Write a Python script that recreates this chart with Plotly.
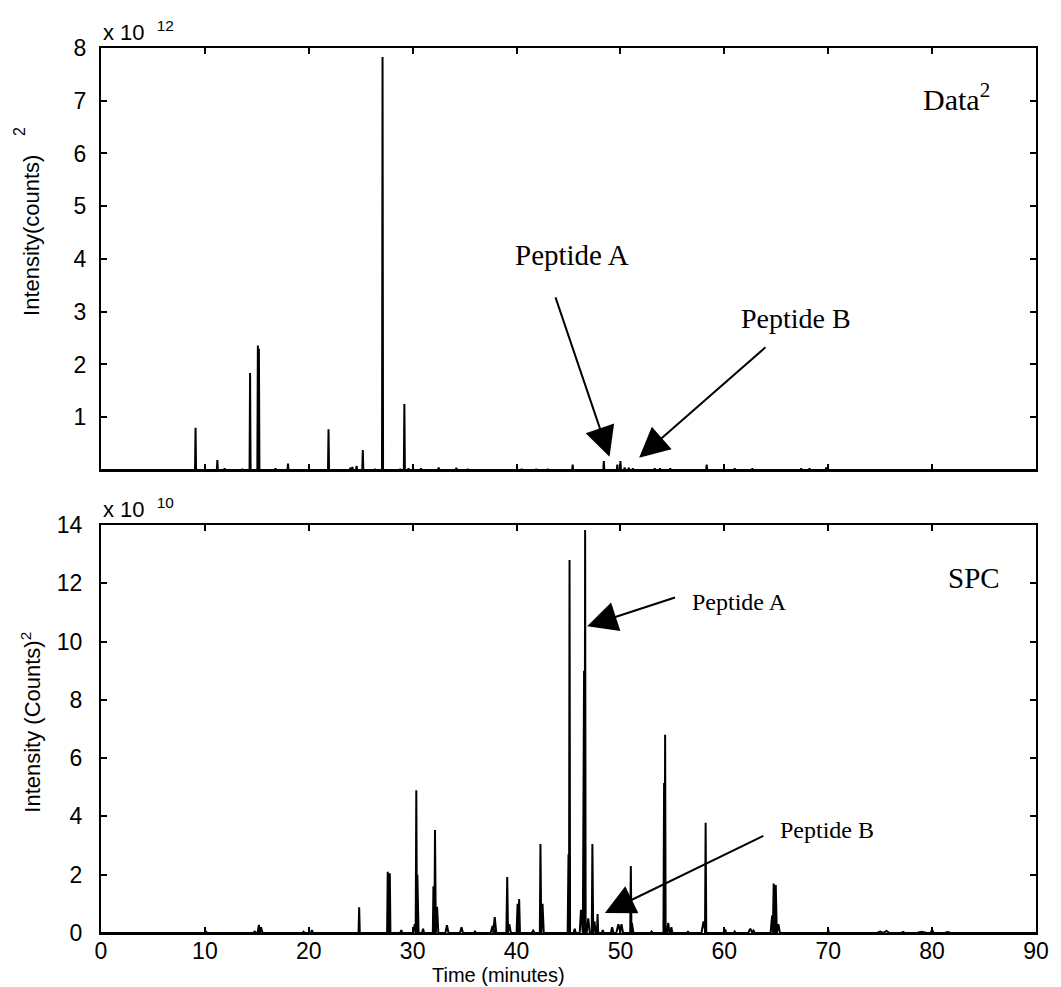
import plotly.graph_objects as go

# ---- Data^2 chromatogram (intensity in units of 10^12 counts^2) ----
data2_time = [9.1, 11.2, 11.9, 13.6, 14.35, 15.1, 15.2, 16.8, 18.0, 21.9, 24.0, 24.2,
              24.6, 25.2, 26.4, 27.1, 28.8, 29.2, 29.6, 30.8, 32.5, 34.2, 35.3, 40.5,
              41.9, 43.0, 45.4, 48.4, 49.7, 50.0, 50.4, 50.8, 51.2, 53.3, 53.8, 54.8,
              58.3, 61.0, 62.7, 67.4, 68.2, 69.8]
data2_height = [0.80, 0.19, 0.03, 0.02, 1.84, 2.36, 2.30, 0.03, 0.12, 0.77, 0.04, 0.06,
                0.08, 0.38, 0.02, 7.83, 0.02, 1.25, 0.03, 0.03, 0.05, 0.04, 0.02, 0.02,
                0.02, 0.02, 0.10, 0.17, 0.10, 0.17, 0.05, 0.04, 0.03, 0.03, 0.03, 0.03,
                0.10, 0.03, 0.03, 0.03, 0.03, 0.05]
data2_halfwidth = [0.05] * len(data2_time)

# ---- SPC chromatogram (intensity in units of 10^10 counts^2) ----
spc_time = [10.1, 14.8, 15.2, 15.4, 19.5, 20.3, 24.85, 27.6, 27.8, 28.9, 30.2, 30.35,
            30.45, 31.0, 32.0, 32.15, 32.35, 33.3, 34.7, 36.0, 37.7, 37.9, 39.1, 39.3,
            40.1, 40.25, 41.6, 42.3, 42.5, 45.0, 45.1, 45.6, 46.2, 46.5, 46.6, 46.9,
            47.3, 47.5, 47.8, 48.3, 49.2, 49.8, 50.1, 51.0, 51.1, 53.0, 54.2, 54.3,
            54.6, 54.9, 56.5, 58.0, 58.2, 60.1, 61.0, 62.5, 62.8, 64.6, 64.75, 64.95,
            65.2, 70.0, 75.0, 75.6, 77.2, 79.0, 80.0, 81.5]
spc_height = [0.06, 0.05, 0.28, 0.20, 0.04, 0.10, 0.88, 2.10, 2.05, 0.10, 0.30, 4.90,
              2.00, 0.15, 1.60, 3.53, 0.90, 0.27, 0.20, 0.05, 0.25, 0.55, 1.92, 0.30,
              1.00, 1.17, 0.08, 3.05, 1.00, 2.70, 12.80, 0.15, 0.80, 9.00, 13.83, 0.50,
              3.05, 0.40, 0.65, 0.10, 0.20, 0.30, 0.30, 2.30, 0.35, 0.05, 5.15, 6.80,
              0.35, 0.20, 0.04, 0.40, 3.78, 0.12, 0.05, 0.15, 0.08, 0.60, 1.70, 1.65,
              0.30, 0.12, 0.05, 0.07, 0.04, 0.04, 0.10, 0.03]
spc_halfwidth = [0.08, 0.15, 0.12, 0.15, 0.1, 0.1, 0.06, 0.06, 0.06, 0.1, 0.15, 0.06,
                 0.12, 0.1, 0.06, 0.06, 0.12, 0.15, 0.15, 0.1, 0.2, 0.15, 0.08, 0.15,
                 0.1, 0.08, 0.15, 0.06, 0.12, 0.08, 0.05, 0.1, 0.12, 0.12, 0.05, 0.15,
                 0.06, 0.12, 0.06, 0.1, 0.12, 0.2, 0.15, 0.06, 0.15, 0.1, 0.06, 0.05,
                 0.12, 0.1, 0.1, 0.2, 0.06, 0.06, 0.1, 0.2, 0.15, 0.15, 0.08, 0.08,
                 0.15, 0.06, 0.3, 0.3, 0.2, 0.5, 0.15, 0.3]

x_ticks = list(range(0, 91, 10))
top_y_ticks = [1, 2, 3, 4, 5, 6, 7, 8]
bottom_y_ticks = [0, 2, 4, 6, 8, 10, 12, 14]


def peak_trace(times, heights, halfwidths):
    """Join triangular peaks along a zero baseline into one polyline."""
    xs, ys = [0.0], [0.0]
    for t, h, w in sorted(zip(times, heights, halfwidths)):
        xs += [t - w, t, t + w]
        ys += [0.0, h, 0.0]
    xs.append(90.0)
    ys.append(0.0)
    return xs, ys


fig = go.Figure()

x1, y1 = peak_trace(data2_time, data2_height, data2_halfwidth)
fig.add_trace(go.Scatter(x=x1, y=y1, mode="lines", xaxis="x", yaxis="y",
                         line=dict(color="black", width=2), hoverinfo="skip"))

x2, y2 = peak_trace(spc_time, spc_height, spc_halfwidth)
fig.add_trace(go.Scatter(x=x2, y=y2, mode="lines", xaxis="x2", yaxis="y2",
                         line=dict(color="black", width=2), hoverinfo="skip"))

sans = "Liberation Sans, Arial, sans-serif"
serif = "Liberation Serif, Times New Roman, serif"

axis_common = dict(showline=True, linecolor="black", linewidth=2, mirror="ticks",
                   ticks="inside", ticklen=6, tickwidth=2, tickcolor="black",
                   showgrid=False, zeroline=False,
                   tickfont=dict(family=sans, size=23, color="black"))

fig.update_layout(
    width=1061, height=987,
    margin=dict(l=101, r=13, t=48, b=54),
    paper_bgcolor="white", plot_bgcolor="white",
    showlegend=False,
    xaxis=dict(domain=[0, 1], anchor="y", range=[0, 90], tickvals=x_ticks,
               showticklabels=False, **axis_common),
    yaxis=dict(domain=[0.5232, 1], anchor="x", range=[0, 8], tickvals=top_y_ticks,
               ticktext=[str(v) for v in top_y_ticks], ticklabelstandoff=8,
               **axis_common),
    xaxis2=dict(domain=[0, 1], anchor="y2", range=[0, 90], tickvals=x_ticks,
                ticktext=[str(v) for v in x_ticks], ticklabelstandoff=-4,
                **axis_common),
    yaxis2=dict(domain=[0, 0.461], anchor="x2", range=[0, 14], tickvals=bottom_y_ticks,
                ticktext=[str(v) for v in bottom_y_ticks], ticklabelstandoff=12,
                **axis_common),
)

ann = []
# axis exponent labels
ann.append(dict(text="x 10  <sup>12</sup>", xref="paper", yref="paper", x=0.0, y=1.001,
                xanchor="left", yanchor="bottom", showarrow=False,
                font=dict(family=sans, size=22, color="black")))
ann.append(dict(text="x 10  <sup>10</sup>", xref="paper", yref="paper", x=0.0, y=0.462,
                xanchor="left", yanchor="bottom", showarrow=False,
                font=dict(family=sans, size=22, color="black")))
# axis titles
ann.append(dict(text="Intensity(counts)", xref="paper", yref="paper",
                x=-0.0745, y=0.788, textangle=-90, xanchor="center", yanchor="middle",
                showarrow=False, font=dict(family=sans, size=22, color="black")))
ann.append(dict(text="2", xref="paper", yref="paper",
                x=-0.088, y=0.906, textangle=-90, xanchor="center", yanchor="middle",
                showarrow=False, font=dict(family=sans, size=16, color="black")))
ann.append(dict(text="Intensity (Counts)<sup>2</sup>", xref="paper", yref="paper",
                x=-0.0745, y=0.238, textangle=-90, xanchor="center", yanchor="middle",
                showarrow=False, font=dict(family=sans, size=22, color="black")))
ann.append(dict(text="Time (minutes)", xref="paper", yref="paper", x=0.4255, y=0.0,
                yshift=-42, xanchor="center", yanchor="middle", showarrow=False,
                font=dict(family=sans, size=20, color="black")))
# panel labels
ann.append(dict(text="Data<sup>2</sup>", xref="x", yref="y", x=82.3, y=7.07,
                showarrow=False, font=dict(family=serif, size=30, color="black")))
ann.append(dict(text="SPC", xref="x2", yref="y2", x=84.0, y=12.18,
                showarrow=False, font=dict(family=serif, size=29, color="black")))
# peptide labels
ann.append(dict(text="Peptide A", xref="x", yref="y", x=45.3, y=4.08,
                showarrow=False, font=dict(family=serif, size=29, color="black")))
ann.append(dict(text="Peptide B", xref="x", yref="y", x=66.9, y=2.88,
                showarrow=False, font=dict(family=serif, size=28, color="black")))
ann.append(dict(text="Peptide A", xref="x2", yref="y2", x=61.5, y=11.36,
                showarrow=False, font=dict(family=serif, size=24, color="black")))
ann.append(dict(text="Peptide B", xref="x2", yref="y2", x=69.9, y=3.53,
                showarrow=False, font=dict(family=serif, size=24, color="black")))

# arrows pointing at the peptide peaks
arrow_style = dict(text="", showarrow=True, arrowhead=2, arrowsize=3, arrowwidth=2,
                   arrowcolor="black", standoff=0)
ann.append(dict(xref="x", yref="y", axref="x", ayref="y",
                x=48.95, y=0.25, ax=43.7, ay=3.3, **arrow_style))
ann.append(dict(xref="x", yref="y", axref="x", ayref="y",
                x=51.8, y=0.23, ax=64.1, ay=2.35, **arrow_style))
ann.append(dict(xref="x2", yref="y2", axref="x2", ayref="y2",
                x=46.8, y=10.53, ax=55.4, ay=11.53, **arrow_style))
ann.append(dict(xref="x2", yref="y2", axref="x2", ayref="y2",
                x=48.5, y=0.69, ax=63.9, ay=3.36, **arrow_style))

fig.update_layout(annotations=ann)

fig.write_html("out.html")
